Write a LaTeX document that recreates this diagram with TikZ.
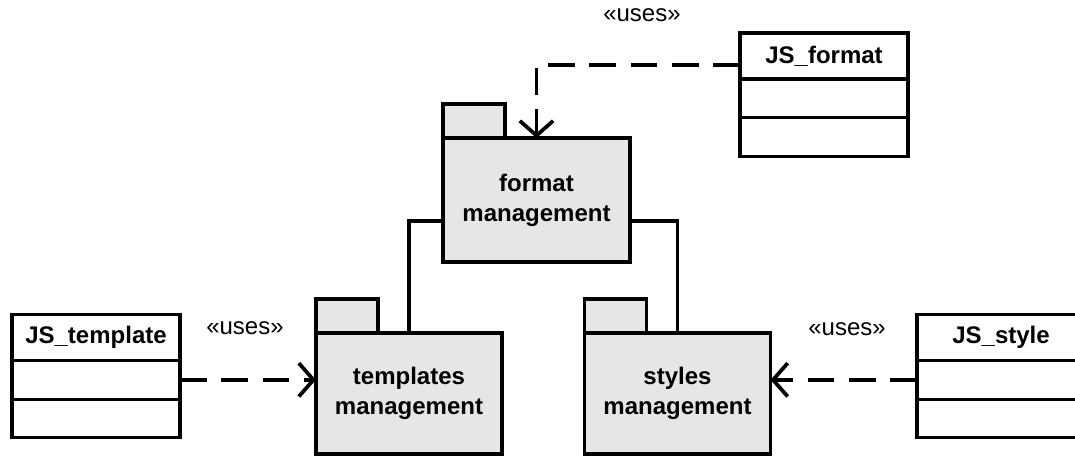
\documentclass[tikz,border=0pt]{standalone}
\usepackage{fontspec}
\setsansfont{Liberation Sans}
\usepackage{tikz}
\usetikzlibrary{positioning,arrows.meta,calc}
\definecolor{pkgfill}{HTML}{E6E6E6}

\begin{document}
\begin{tikzpicture}[x=0.75pt, y=-0.75pt,
  pkg_/.style={rectangle, draw=black, fill=pkgfill, line width=2.4pt, outer sep=0pt,
    align=center, font=\sffamily\bfseries\fontsize{18}{22.5}\selectfont,
    minimum width=139.5pt, minimum height=90.75pt},
  tab_/.style={rectangle, draw=black, fill=pkgfill, line width=2.4pt, outer sep=0pt,
    minimum width=46.5pt, minimum height=25.5pt, anchor=south west},
  cls_/.style={rectangle, draw=black, fill=white, line width=2.4pt, outer sep=0pt,
    font=\sffamily\bfseries\fontsize{18}{22.5}\selectfont,
    minimum width=126pt, minimum height=29pt},
  lbl/.style={font=\sffamily\fontsize{18}{22.5}\selectfont},
  dep/.style={-{Straight Barb[length=11pt,width=25pt]}, line width=2.8pt,
    dash pattern=on 20pt off 11pt},
  lnk/.style={line width=2.4pt}
]
\useasboundingbox (0,0) rectangle (1075,456);
\clip (0,0) rectangle (1075,456);

% packages
\node[pkg_, minimum width=140.25pt, minimum height=93pt] (fmt) at (536.5,200) {format\\management};
\node[tab_] (fmttab) at (fmt.north west) {};
\node[pkg_] (tmpl) at (409,393.5) {templates\\management};
\node[tab_] (tmpltab) at (tmpl.north west) {};
\node[pkg_] (styl) at (677.5,393.5) {styles\\management};
\node[tab_] (styltab) at (styl.north west) {};

% classes
\node[cls_, minimum height=34.5pt] (jsformat) at (824,56) {JS\_format};
\node[cls_, anchor=north] (jsformat2) at (jsformat.south) {};
\node[cls_, anchor=north] (jsformat3) at (jsformat2.south) {};
\node[cls_, minimum height=34.5pt] (jstemplate) at (96,337.5) {JS\_template};
\node[cls_, anchor=north] (jstemplate2) at (jstemplate.south) {};
\node[cls_, anchor=north] (jstemplate3) at (jstemplate2.south) {};
\node[cls_, minimum height=34.5pt] (jsstyle) at (1001,337.5) {JS\_style};
\node[cls_, anchor=north] (jsstyle2) at (jsstyle.south) {};
\node[cls_, anchor=north] (jsstyle3) at (jsstyle2.south) {};

% connectors
\draw[lnk] ([yshift=-15.75pt]fmt.west) -| (tmpl.north);
\draw[lnk] ([yshift=-15.75pt]fmt.east) -| (styl.north);
\draw[dep] ([yshift=-6.75pt]jsformat.west) -| (fmt.north);
\draw[dep] (jstemplate2.east) -- (jstemplate2.east -| tmpl.west);
\draw[dep] (jsstyle2.west) -- (jsstyle2.west -| styl.east);

\node[lbl] (uses1) at (642,15) {«uses»};
\node[lbl] (uses2) at (245,328) {«uses»};
\node[lbl] (uses3) at (847,329) {«uses»};
\end{tikzpicture}
\end{document}
